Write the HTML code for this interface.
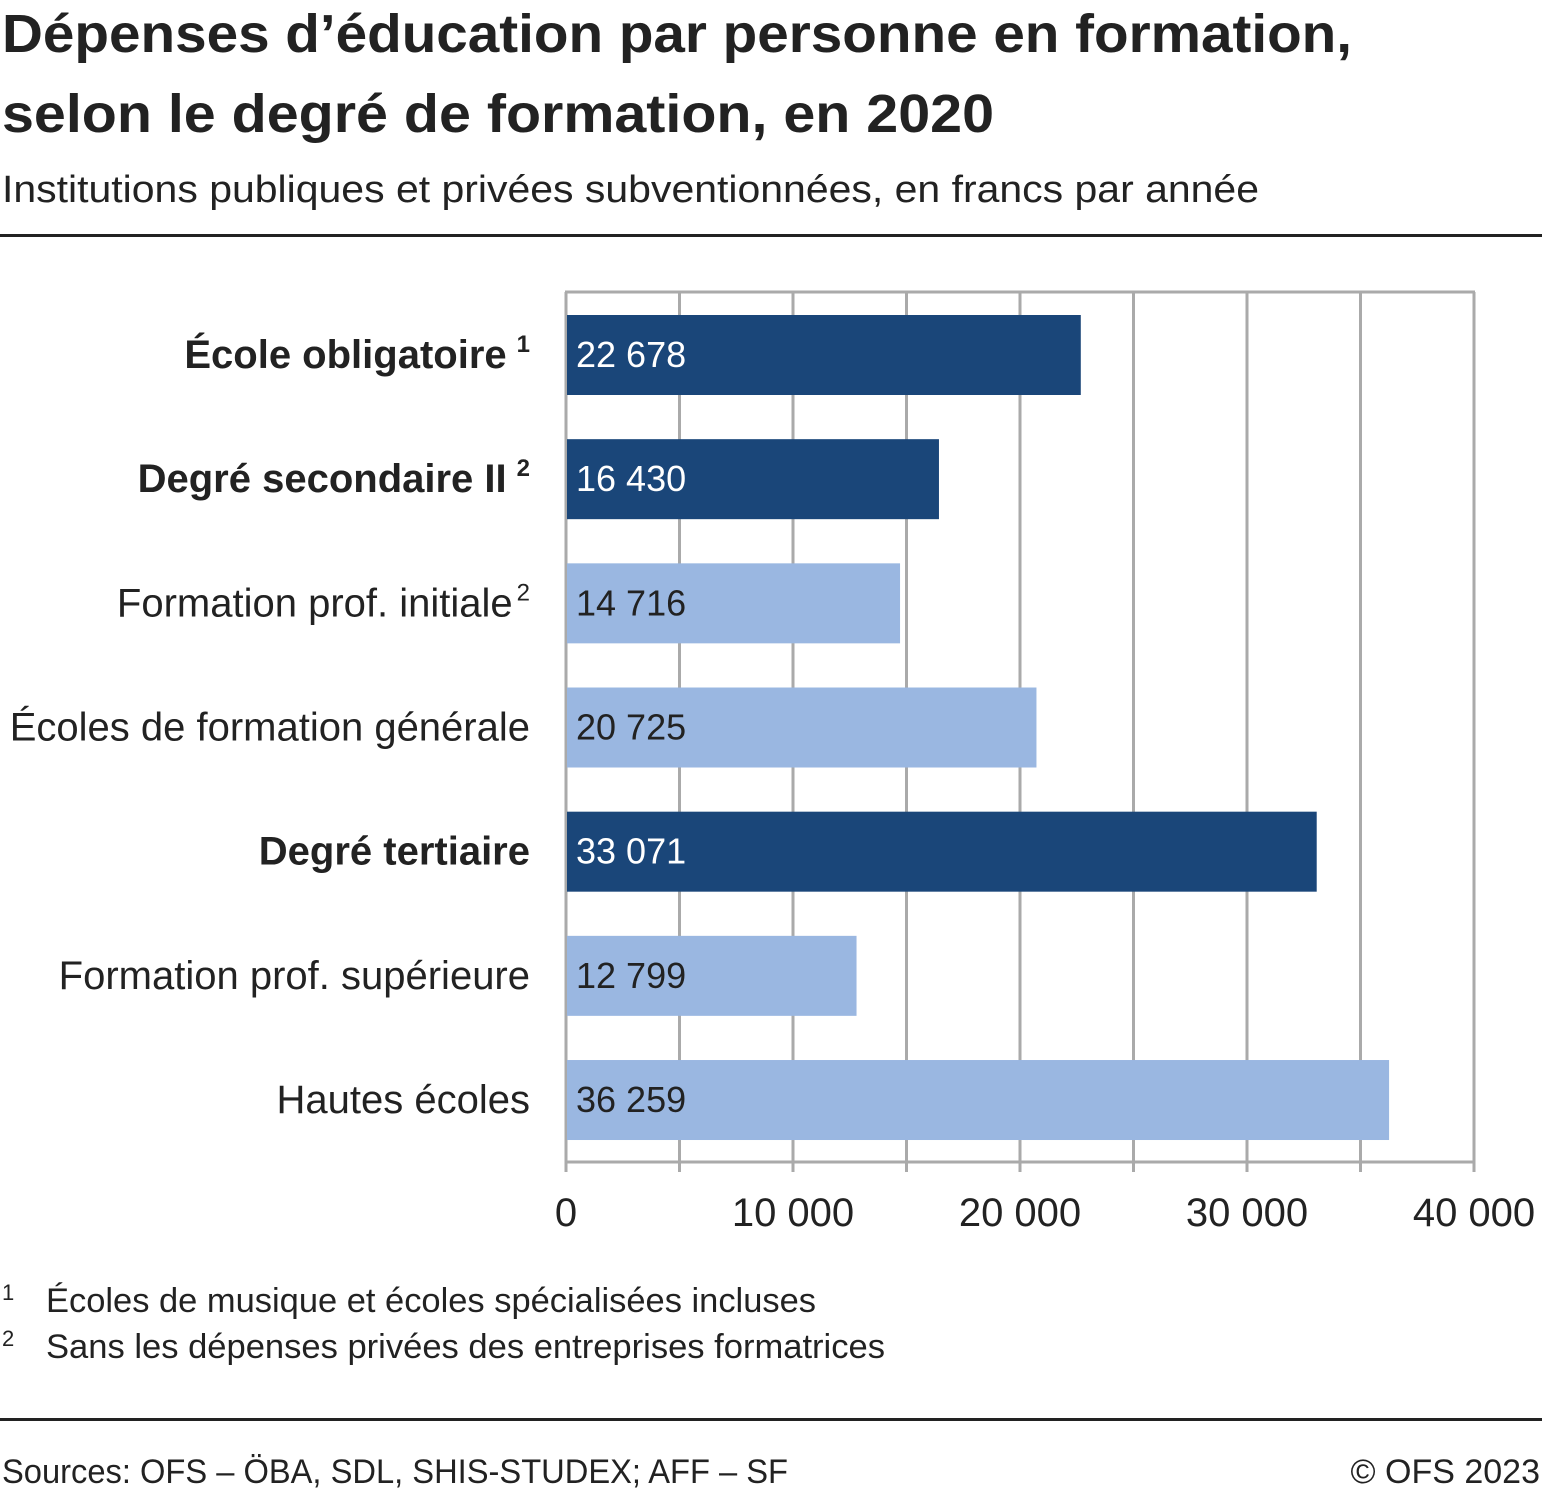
<!DOCTYPE html>
<html><head><meta charset="utf-8"><style>
body{margin:0;background:#fff}
svg{display:block;font-family:"Liberation Sans",sans-serif}
</style></head><body>
<svg width="1542" height="1493" viewBox="0 0 1542 1493">
<text x="2" y="52" font-size="54" font-weight="bold" fill="#222" textLength="1350" lengthAdjust="spacingAndGlyphs">Dépenses d’éducation par personne en formation,</text>
<text x="2" y="132" font-size="54" font-weight="bold" fill="#222" textLength="992" lengthAdjust="spacingAndGlyphs">selon le degré de formation, en 2020</text>
<text x="2" y="202" font-size="38" fill="#222" textLength="1257" lengthAdjust="spacingAndGlyphs">Institutions publiques et privées subventionnées, en francs par année</text>
<rect x="0" y="234" width="1542" height="3" fill="#222"/>
<g id="plot"></g>
<text x="2" y="1300" font-size="22" fill="#222">1</text>
<text x="46" y="1312" font-size="34" fill="#222" textLength="770" lengthAdjust="spacingAndGlyphs">Écoles de musique et écoles spécialisées incluses</text>
<text x="2" y="1346" font-size="22" fill="#222">2</text>
<text x="46" y="1358" font-size="34" fill="#222" textLength="839" lengthAdjust="spacingAndGlyphs">Sans les dépenses privées des entreprises formatrices</text>
<rect x="0" y="1418" width="1542" height="3" fill="#222"/>
<text x="2" y="1483" font-size="34" fill="#222" textLength="786" lengthAdjust="spacingAndGlyphs">Sources: OFS – ÖBA, SDL, SHIS-STUDEX; AFF – SF</text>
<text x="1540" y="1483" font-size="34" fill="#222" text-anchor="end">© OFS 2023</text>
</svg>
<script>
const categories=["École obligatoire","Degré secondaire II","Formation prof. initiale","Écoles de formation générale","Degré tertiaire","Formation prof. supérieure","Hautes écoles"];
const values=[22678,16430,14716,20725,33071,12799,36259];
const valueLabels=["22 678","16 430","14 716","20 725","33 071","12 799","36 259"];
const isTotal=[true,true,false,false,true,false,false];
const footnoteRefs=["1","2","2","","","",""];
const tickValues=[0,10000,20000,30000,40000];
const tickLabels=["0","10 000","20 000","30 000","40 000"];
const gridValues=[0,5000,10000,15000,20000,25000,30000,35000,40000];

(function(){
const NS="http://www.w3.org/2000/svg";
const g=document.getElementById('plot');
const x0=566,x1=1474,yTop=292,yBot=1162,xMax=40000;
const xs=v=>x0+(v/xMax)*(x1-x0);
const band=124.17;
const yb=i=>yTop+23+i*band;
const bh=80;
function el(t,a){const e=document.createElementNS(NS,t);for(const k in a)e.setAttribute(k,a[k]);g.appendChild(e);return e;}
gridValues.forEach(v=>{
  const l=el('line',{x1:xs(v),x2:xs(v),y1:yTop,y2:yBot+10,stroke:'#aaa','stroke-width':3});
  
  
});
const plotTop=el('line',{x1:x0-1,x2:x1+1,y1:yTop,y2:yTop,stroke:'#aaa','stroke-width':3});


const ax=el('line',{x1:x0-1,x2:x1+1,y1:yBot,y2:yBot,stroke:'#aaa','stroke-width':3});


tickValues.forEach((v,i)=>{
  const t=el('text',{x:xs(v),y:1226,'font-size':40,fill:'#222','text-anchor':'middle'});
  t.textContent=tickLabels[i];
  
  
});
categories.forEach((c,i)=>{
  const y=yb(i);
  const r=el('rect',{x:x0+1,y:y,width:xs(values[i])-x0-1,height:bh,fill:isTotal[i]?'#1a4679':'#9ab7e1'});
  
  
  const vt=el('text',{x:576,y:y+52,'font-size':36,fill:isTotal[i]?'#fff':'#222'});
  vt.textContent=valueLabels[i];
  
  
  const lt=el('text',{x:530,y:y+53,'font-size':40,fill:'#222','text-anchor':'end','font-weight':isTotal[i]?'bold':'normal'});
  lt.textContent=c;
  if(footnoteRefs[i]){
    const s=document.createElementNS(NS,'tspan');
    s.setAttribute('font-size',24);s.setAttribute('dy',-16);s.setAttribute('dx',isTotal[i]?10:4);
    s.textContent=footnoteRefs[i];lt.appendChild(s);
  }
  
  
});
})();
</script>
</body></html>
